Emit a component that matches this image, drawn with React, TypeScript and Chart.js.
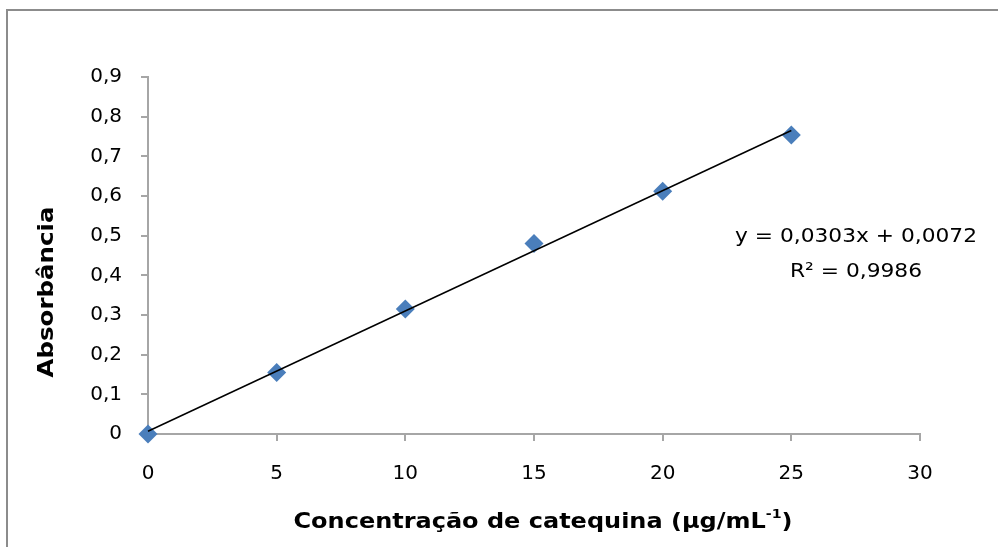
import React, { useEffect, useRef } from "react";
import { Chart, registerables } from "chart.js";

Chart.register(...registerables);

// ---- data ----
const concentrations = [0, 5, 10, 15, 20, 25];
const absorbances = [0, 0.155, 0.315, 0.48, 0.612, 0.754];
const xTickLabels = ["0", "5", "10", "15", "20", "25", "30"];
const yTickLabels = ["0", "0,1", "0,2", "0,3", "0,4", "0,5", "0,6", "0,7", "0,8", "0,9"];
const equationText = "y = 0,0303x + 0,0072";
const r2Text = "R² = 0,9986";
const xTitleMain = "Concentração de catequina (µg/mL";
const xTitleSup = "-1";
const xTitleEnd = ")";
const yTitle = "Absorbância";

// least-squares trendline computed from the data
function linearFit(xs: number[], ys: number[]) {
  const n = xs.length;
  const mx = xs.reduce((a, b) => a + b, 0) / n;
  const my = ys.reduce((a, b) => a + b, 0) / n;
  let sxy = 0, sxx = 0;
  for (let i = 0; i < n; i++) {
    sxy += (xs[i] - mx) * (ys[i] - my);
    sxx += (xs[i] - mx) * (xs[i] - mx);
  }
  const slope = sxy / sxx;
  return { slope, intercept: my - slope * mx };
}

type Part = { t: string; sup?: boolean };

function drawFitted(
  ctx: CanvasRenderingContext2D,
  parts: Part[],
  font: string,
  supFont: string,
  cx: number,
  cy: number,
  width: number,
  rotate = 0
) {
  ctx.save();
  let total = 0;
  const widths = parts.map((p) => {
    ctx.font = p.sup ? supFont : font;
    const w = ctx.measureText(p.t).width;
    total += w;
    return w;
  });
  ctx.translate(cx, cy);
  if (rotate) ctx.rotate(rotate);
  ctx.scale(width / total, 1);
  ctx.textBaseline = "middle";
  ctx.textAlign = "left";
  ctx.fillStyle = "#000";
  let x = -total / 2;
  parts.forEach((p, i) => {
    ctx.font = p.sup ? supFont : font;
    ctx.fillText(p.t, x, p.sup ? -7 : 0);
    x += widths[i];
  });
  ctx.restore();
}

const annotPlugin = {
  id: "annot",
  afterDraw(chart: any) {
    const ctx: CanvasRenderingContext2D = chart.ctx;
    ctx.save();
    ctx.strokeStyle = "#8c8c8c";
    ctx.lineWidth = 2;
    ctx.beginPath();
    ctx.moveTo(7, 547);
    ctx.lineTo(7, 10);
    ctx.lineTo(998, 10);
    ctx.stroke();
    ctx.restore();

    const normal = "20px 'DejaVu Sans'";
    const bold = "bold 22px 'DejaVu Sans'";
    drawFitted(ctx, [{ t: equationText }], normal, normal, 856, 237, 242);
    drawFitted(ctx, [{ t: r2Text }], normal, normal, 856, 272, 132);
    drawFitted(
      ctx,
      [{ t: xTitleMain }, { t: xTitleSup, sup: true }, { t: xTitleEnd }],
      bold,
      "bold 13px 'DejaVu Sans'",
      543,
      522,
      499
    );
    drawFitted(ctx, [{ t: yTitle }], bold, bold, 47, 292, 171, -Math.PI / 2);
  },
};

export default function App() {
  const canvasRef = useRef<HTMLCanvasElement | null>(null);

  useEffect(() => {
    if (!canvasRef.current) return;
    const fit = linearFit(concentrations, absorbances);
    const xStart = concentrations[0];
    const xEnd = concentrations[concentrations.length - 1];
    const chart = new Chart(canvasRef.current, {
      type: "scatter",
      data: {
        datasets: [
          {
            label: "Trend",
            data: [
              { x: xStart, y: fit.intercept + fit.slope * xStart },
              { x: xEnd, y: fit.intercept + fit.slope * xEnd },
            ],
            showLine: true,
            borderColor: "#000",
            borderWidth: 1.5,
            pointRadius: 0,
            order: 0,
            clip: false,
          },
          {
            label: "Absorbância",
            data: concentrations.map((x, i) => ({ x, y: absorbances[i] })),
            pointStyle: "rectRot",
            pointRadius: 9.5,
            backgroundColor: "#4A7EBB",
            borderColor: "#4A7EBB",
            borderWidth: 0,
            order: 1,
            clip: false,
          },
        ],
      },
      options: {
        animation: false,
        responsive: true,
        maintainAspectRatio: false,
        layout: { padding: { top: 77, right: 78, left: 0, bottom: 0 } },
        plugins: {
          legend: { display: false },
          tooltip: { enabled: false },
        },
        scales: {
          x: {
            type: "linear",
            min: 0,
            max: 30,
            afterFit: (s: any) => {
              s.height = 113;
            },
            ticks: {
              stepSize: 5,
              padding: 21,
              color: "#000",
              font: { family: "'DejaVu Sans'", size: 20 },
              callback: (v: any) => xTickLabels[Math.round(Number(v) / 5)] ?? "",
            },
            grid: {
              drawOnChartArea: false,
              drawTicks: true,
              tickLength: 7,
              color: "#A6A6A6",
              lineWidth: 2,
            },
            border: { color: "#A6A6A6", width: 2 },
          },
          y: {
            type: "linear",
            min: 0,
            max: 0.9,
            afterFit: (s: any) => {
              s.width = 148;
            },
            ticks: {
              stepSize: 0.1,
              padding: 19,
              color: "#000",
              font: { family: "'DejaVu Sans'", size: 20 },
              callback: (v: any) => yTickLabels[Math.round(Number(v) * 10)] ?? "",
            },
            grid: {
              drawOnChartArea: false,
              drawTicks: true,
              tickLength: 7,
              color: "#A6A6A6",
              lineWidth: 2,
            },
            border: { color: "#A6A6A6", width: 2 },
          },
        },
      },
      plugins: [annotPlugin],
    });
    return () => chart.destroy();
  }, []);

  return (
    <div style={{ position: "absolute", left: 0, top: 0, width: 998, height: 547, background: "#fff" }}>
      <canvas ref={canvasRef} />
    </div>
  );
}
